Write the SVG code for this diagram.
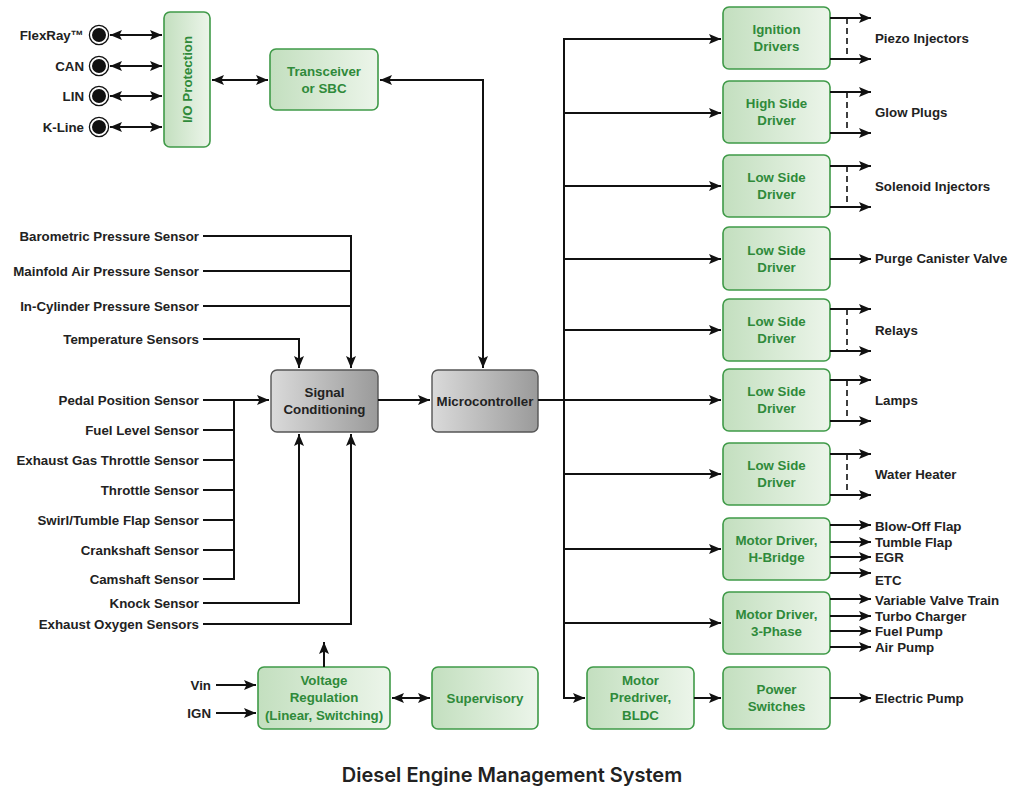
<svg xmlns="http://www.w3.org/2000/svg" width="1011" height="786" viewBox="0 0 1011 786">
  <defs>
    <linearGradient id="gGreen" x1="0" y1="0" x2="1" y2="0">
      <stop offset="0" stop-color="#c3dfbf"/>
      <stop offset="1" stop-color="#ecf5ea"/>
    </linearGradient>
    <linearGradient id="gGrey" x1="0" y1="0" x2="1" y2="0">
      <stop offset="0" stop-color="#dadada"/>
      <stop offset="1" stop-color="#9a9a9a"/>
    </linearGradient>
    <marker id="ah" markerUnits="userSpaceOnUse" markerWidth="14" markerHeight="12" refX="12" refY="5" orient="auto-start-reverse">
      <path d="M0,0 L12,5 L0,10 L2.5,5 z" fill="#111"/>
    </marker>
  </defs>
  <style>
    .gbox { fill: url(#gGreen); stroke: #3f9a48; stroke-width: 1.6; }
    .kbox { fill: url(#gGrey); stroke: #555; stroke-width: 1.4; }
    .gt { font-family: "Liberation Sans", Arial, sans-serif; font-weight: bold; font-size: 13.3px; fill: #2f8a3a; text-anchor: middle; }
    .kt { font-family: "Liberation Sans", Arial, sans-serif; font-weight: bold; font-size: 13.3px; fill: #222; text-anchor: middle; }
    .lbl { font-family: "Liberation Sans", Arial, sans-serif; font-weight: bold; font-size: 13.3px; fill: #222; }
    .r { text-anchor: end; }
    .w { fill: none; stroke: #111; stroke-width: 2; }
    .a { marker-end: url(#ah); }
    .d { marker-start: url(#ah); marker-end: url(#ah); }
    .dash { fill: none; stroke: #111; stroke-width: 1.6; stroke-dasharray: 6 4; }
    .title { font-family: Inter, "Liberation Sans", sans-serif; font-weight: 600; font-size: 20px; fill: #222; text-anchor: middle; }
  </style>

  <rect width="1011" height="786" fill="#fff"/>

  <!-- bus connectors -->
  <g id="bus-ports">
    <g id="port-flexray">
      <circle cx="99" cy="35" r="9.6" fill="#fff" stroke="#111" stroke-width="1.3"/>
      <circle cx="99" cy="35" r="7" fill="#111"/>
      <text class="lbl r" x="84" y="39.5">FlexRay™</text>
    </g>
    <g id="port-can">
      <circle cx="99" cy="66" r="9.6" fill="#fff" stroke="#111" stroke-width="1.3"/>
      <circle cx="99" cy="66" r="7" fill="#111"/>
      <text class="lbl r" x="84" y="70.5">CAN</text>
    </g>
    <g id="port-lin">
      <circle cx="99" cy="96" r="9.6" fill="#fff" stroke="#111" stroke-width="1.3"/>
      <circle cx="99" cy="96" r="7" fill="#111"/>
      <text class="lbl r" x="84" y="100.5">LIN</text>
    </g>
    <g id="port-kline">
      <circle cx="99" cy="127" r="9.6" fill="#fff" stroke="#111" stroke-width="1.3"/>
      <circle cx="99" cy="127" r="7" fill="#111"/>
      <text class="lbl r" x="84" y="131.5">K-Line</text>
    </g>
  </g>

  <!-- blocks -->
  <g id="io-protection">
    <rect class="gbox" x="164" y="12" width="46" height="135" rx="6"/>
    <text class="gt" transform="translate(191.5 79.5) rotate(-90)">I/O Protection</text>
  </g>
  <g id="transceiver">
    <rect class="gbox" x="270" y="49" width="108" height="61" rx="6"/>
    <text class="gt" x="324" y="76">Transceiver</text>
    <text class="gt" x="324" y="93">or SBC</text>
  </g>
  <g id="signal-conditioning">
    <rect class="kbox" x="271" y="370" width="107" height="62" rx="6"/>
    <text class="kt" x="324.5" y="397">Signal</text>
    <text class="kt" x="324.5" y="414">Conditioning</text>
  </g>
  <g id="microcontroller">
    <rect class="kbox" x="432" y="370" width="106" height="62" rx="6"/>
    <text class="kt" x="485" y="405.5">Microcontroller</text>
  </g>
  <g id="voltage-regulation">
    <rect class="gbox" x="258" y="667" width="132" height="62" rx="6"/>
    <text class="gt" x="324" y="685">Voltage</text>
    <text class="gt" x="324" y="702">Regulation</text>
    <text class="gt" x="324" y="720">(Linear, Switching)</text>
  </g>
  <g id="supervisory">
    <rect class="gbox" x="432" y="667" width="106" height="62" rx="6"/>
    <text class="gt" x="485" y="702.5">Supervisory</text>
  </g>
  <g id="motor-predriver">
    <rect class="gbox" x="587" y="667" width="107" height="62" rx="6"/>
    <text class="gt" x="640.5" y="685">Motor</text>
    <text class="gt" x="640.5" y="702">Predriver,</text>
    <text class="gt" x="640.5" y="720">BLDC</text>
  </g>
  <g id="ignition-drivers">
    <rect class="gbox" x="723" y="7" width="107" height="62" rx="6"/>
    <text class="gt" x="776.5" y="34">Ignition</text>
    <text class="gt" x="776.5" y="51">Drivers</text>
  </g>
  <g id="high-side-driver">
    <rect class="gbox" x="723" y="81" width="107" height="62" rx="6"/>
    <text class="gt" x="776.5" y="108">High Side</text>
    <text class="gt" x="776.5" y="125">Driver</text>
  </g>
  <g id="low-side-driver-1">
    <rect class="gbox" x="723" y="155" width="107" height="62" rx="6"/>
    <text class="gt" x="776.5" y="182">Low Side</text>
    <text class="gt" x="776.5" y="199">Driver</text>
  </g>
  <g id="low-side-driver-2">
    <rect class="gbox" x="723" y="227" width="107" height="63" rx="6"/>
    <text class="gt" x="776.5" y="255">Low Side</text>
    <text class="gt" x="776.5" y="272">Driver</text>
  </g>
  <g id="low-side-driver-3">
    <rect class="gbox" x="723" y="299" width="107" height="62" rx="6"/>
    <text class="gt" x="776.5" y="326">Low Side</text>
    <text class="gt" x="776.5" y="343">Driver</text>
  </g>
  <g id="low-side-driver-4">
    <rect class="gbox" x="723" y="369" width="107" height="62" rx="6"/>
    <text class="gt" x="776.5" y="396">Low Side</text>
    <text class="gt" x="776.5" y="413">Driver</text>
  </g>
  <g id="low-side-driver-5">
    <rect class="gbox" x="723" y="443" width="107" height="62" rx="6"/>
    <text class="gt" x="776.5" y="470">Low Side</text>
    <text class="gt" x="776.5" y="487">Driver</text>
  </g>
  <g id="motor-driver-hbridge">
    <rect class="gbox" x="723" y="518" width="107" height="62" rx="6"/>
    <text class="gt" x="776.5" y="545">Motor Driver,</text>
    <text class="gt" x="776.5" y="562">H-Bridge</text>
  </g>
  <g id="motor-driver-3phase">
    <rect class="gbox" x="723" y="592" width="107" height="62" rx="6"/>
    <text class="gt" x="776.5" y="619">Motor Driver,</text>
    <text class="gt" x="776.5" y="636">3-Phase</text>
  </g>
  <g id="power-switches">
    <rect class="gbox" x="723" y="667" width="107" height="62" rx="6"/>
    <text class="gt" x="776.5" y="694">Power</text>
    <text class="gt" x="776.5" y="711">Switches</text>
  </g>

  <!-- sensor and supply labels -->
  <g id="sensor-labels" class="lbl">
    <text class="r" x="199" y="240.5">Barometric Pressure Sensor</text>
    <text class="r" x="199" y="275.5">Mainfold Air Pressure Sensor</text>
    <text class="r" x="199" y="310.5">In-Cylinder Pressure Sensor</text>
    <text class="r" x="199" y="343.5">Temperature Sensors</text>
    <text class="r" x="199" y="404.5">Pedal Position Sensor</text>
    <text class="r" x="199" y="434.5">Fuel Level Sensor</text>
    <text class="r" x="199" y="464.5">Exhaust Gas Throttle Sensor</text>
    <text class="r" x="199" y="494.5">Throttle Sensor</text>
    <text class="r" x="199" y="524.5">Swirl/Tumble Flap Sensor</text>
    <text class="r" x="199" y="554.5">Crankshaft Sensor</text>
    <text class="r" x="199" y="583.5">Camshaft Sensor</text>
    <text class="r" x="199" y="607.5">Knock Sensor</text>
    <text class="r" x="199" y="628.5">Exhaust Oxygen Sensors</text>
    <text class="r" x="211" y="689.5">Vin</text>
    <text class="r" x="211" y="717.5">IGN</text>
  </g>

  <!-- output labels -->
  <g id="output-labels" class="lbl">
    <text x="875" y="42.5">Piezo Injectors</text>
    <text x="875" y="116.5">Glow Plugs</text>
    <text x="875" y="190.5">Solenoid Injectors</text>
    <text x="875" y="263">Purge Canister Valve</text>
    <text x="875" y="334.5">Relays</text>
    <text x="875" y="404.5">Lamps</text>
    <text x="875" y="478.5">Water Heater</text>
    <text x="875" y="530.5">Blow-Off Flap</text>
    <text x="875" y="546.5">Tumble Flap</text>
    <text x="875" y="562">EGR</text>
    <text x="875" y="584.5">ETC</text>
    <text x="875" y="604.5">Variable Valve Train</text>
    <text x="875" y="620.5">Turbo Charger</text>
    <text x="875" y="635.5">Fuel Pump</text>
    <text x="875" y="651.5">Air Pump</text>
    <text x="875" y="702.5">Electric Pump</text>
  </g>

  <!-- connectors -->
  <g id="connectors">
    <!-- bus ports to I/O protection -->
    <line class="w d" x1="110" y1="35" x2="162" y2="35"/>
    <line class="w d" x1="110" y1="66" x2="162" y2="66"/>
    <line class="w d" x1="110" y1="96" x2="162" y2="96"/>
    <line class="w d" x1="110" y1="127" x2="162" y2="127"/>
    <line class="w d" x1="212" y1="80" x2="268" y2="80"/>
    <!-- transceiver to microcontroller -->
    <polyline class="w d" points="380,80 483,80 483,368"/>

    <!-- sensors into signal conditioning, top -->
    <polyline class="w a" points="203,236 351,236 351,368"/>
    <line class="w" x1="203" y1="271" x2="351" y2="271"/>
    <line class="w" x1="203" y1="306" x2="351" y2="306"/>
    <polyline class="w a" points="203,339 299,339 299,368"/>

    <!-- sensors into signal conditioning, left -->
    <line class="w a" x1="203" y1="400" x2="269" y2="400"/>
    <polyline class="w" points="203,579 234,579 234,400"/>
    <line class="w" x1="203" y1="430" x2="234" y2="430"/>
    <line class="w" x1="203" y1="460" x2="234" y2="460"/>
    <line class="w" x1="203" y1="490" x2="234" y2="490"/>
    <line class="w" x1="203" y1="520" x2="234" y2="520"/>
    <line class="w" x1="203" y1="550" x2="234" y2="550"/>

    <!-- sensors into signal conditioning, bottom -->
    <polyline class="w a" points="203,603 299,603 299,434"/>
    <polyline class="w a" points="203,624 351,624 351,434"/>

    <!-- signal conditioning to microcontroller -->
    <line class="w a" x1="378" y1="400" x2="430" y2="400"/>

    <!-- microcontroller output bus -->
    <line class="w" x1="538" y1="400" x2="564" y2="400"/>
    <polyline class="w a" points="564,39 564,698 585,698"/>
    <line class="w a" x1="563" y1="39" x2="721" y2="39"/>
    <line class="w a" x1="564" y1="113" x2="721" y2="113"/>
    <line class="w a" x1="564" y1="186" x2="721" y2="186"/>
    <line class="w a" x1="564" y1="259" x2="721" y2="259"/>
    <line class="w a" x1="564" y1="330" x2="721" y2="330"/>
    <line class="w a" x1="564" y1="400" x2="721" y2="400"/>
    <line class="w a" x1="564" y1="474" x2="721" y2="474"/>
    <line class="w a" x1="564" y1="549" x2="721" y2="549"/>
    <line class="w a" x1="564" y1="623" x2="721" y2="623"/>
    <line class="w a" x1="694" y1="698" x2="721" y2="698"/>

    <!-- supply -->
    <line class="w a" x1="216" y1="685" x2="256" y2="685"/>
    <line class="w a" x1="216" y1="713" x2="256" y2="713"/>
    <line class="w a" x1="324" y1="667" x2="324" y2="642"/>
    <line class="w d" x1="392" y1="698" x2="430" y2="698"/>

    <!-- driver outputs -->
    <line class="w a" x1="830" y1="18" x2="871" y2="18"/>
    <line class="w a" x1="830" y1="59" x2="871" y2="59"/>
    <line class="dash" x1="847" y1="18" x2="847" y2="59"/>
    <line class="w a" x1="830" y1="92" x2="871" y2="92"/>
    <line class="w a" x1="830" y1="133" x2="871" y2="133"/>
    <line class="dash" x1="847" y1="92" x2="847" y2="133"/>
    <line class="w a" x1="830" y1="166" x2="871" y2="166"/>
    <line class="w a" x1="830" y1="207" x2="871" y2="207"/>
    <line class="dash" x1="847" y1="166" x2="847" y2="207"/>
    <line class="w a" x1="830" y1="259" x2="871" y2="259"/>
    <line class="w a" x1="830" y1="309" x2="871" y2="309"/>
    <line class="w a" x1="830" y1="351" x2="871" y2="351"/>
    <line class="dash" x1="847" y1="309" x2="847" y2="351"/>
    <line class="w a" x1="830" y1="380" x2="871" y2="380"/>
    <line class="w a" x1="830" y1="421" x2="871" y2="421"/>
    <line class="dash" x1="847" y1="380" x2="847" y2="421"/>
    <line class="w a" x1="830" y1="454" x2="871" y2="454"/>
    <line class="w a" x1="830" y1="495" x2="871" y2="495"/>
    <line class="dash" x1="847" y1="454" x2="847" y2="495"/>
    <line class="w a" x1="830" y1="525" x2="871" y2="525"/>
    <line class="w a" x1="830" y1="542" x2="871" y2="542"/>
    <line class="w a" x1="830" y1="557" x2="871" y2="557"/>
    <line class="w a" x1="830" y1="573" x2="871" y2="573"/>
    <line class="w a" x1="830" y1="599" x2="871" y2="599"/>
    <line class="w a" x1="830" y1="616" x2="871" y2="616"/>
    <line class="w a" x1="830" y1="631" x2="871" y2="631"/>
    <line class="w a" x1="830" y1="647" x2="871" y2="647"/>
    <line class="w a" x1="830" y1="698" x2="871" y2="698"/>
  </g>

  <text class="title" x="512" y="782">Diesel Engine Management System</text>
</svg>
